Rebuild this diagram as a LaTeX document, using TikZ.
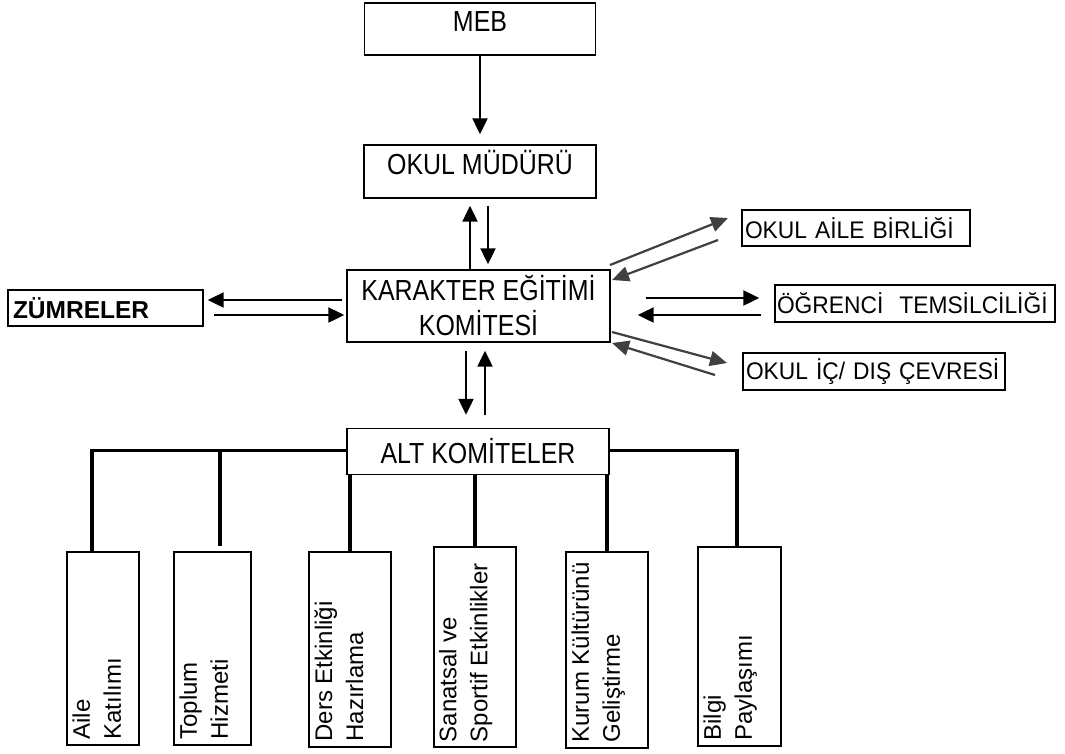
\documentclass[tikz,border=0pt]{standalone}
\usepackage{fontspec}
\setmainfont{Liberation Sans}
\newfontfamily\topfont{Liberation Sans}[FakeStretch=0.86]
\newfontfamily\rightfont{Liberation Sans}[FakeStretch=0.95]
\usetikzlibrary{arrows.meta,calc}
\begin{document}
\begin{tikzpicture}[x=1pt,y=-1pt,
 every node/.style={font=\fontsize{23}{28}\selectfont},
 box/.style={draw,line width=1.4pt,inner sep=0pt,align=center},
 tbox/.style={box,font=\topfont\fontsize{29}{35}\selectfont},
 lbox/.style={box,align=left,inner xsep=5pt},
 rbox/.style={lbox,font=\rightfont\fontsize{24}{28}\selectfont},
 arr/.style={line width=2.2pt,-{Triangle[length=16pt,width=15pt]}},
 darr/.style={arr,draw=black!75,fill=black!85,-{Triangle[length=17pt,width=15pt]}},
 conn/.style={line width=3pt},
 drop/.style={line width=4pt},
 vtext/.style={rotate=90,anchor=north west,align=left,inner sep=3pt,font=\fontsize{24}{31}\selectfont}
]
\useasboundingbox[fill=white] (0,0) rectangle (1065,753);

% top boxes
\node[tbox,minimum width=231pt,minimum height=52pt,text height=21pt,text depth=16pt] (MEB) at (480,29) {MEB};
\node[tbox,minimum width=232pt,minimum height=53pt,text height=21pt,text depth=16pt] (MUD) at (480,171.5) {OKUL MÜDÜRÜ};
\node[tbox,minimum width=263pt,minimum height=72pt] (KEK) at (478.5,306) {KARAKTER EĞİTİMİ\\KOMİTESİ};
\node[lbox,minimum width=195pt,minimum height=36pt,text width=185pt,font=\fontsize{24.5}{28}\selectfont\bfseries] (ZUM) at (105.5,308) {ZÜMRELER};
\node[rbox,minimum width=228pt,minimum height=36pt,text width=222pt,inner xsep=3pt] (OAB) at (856,228) {\mbox{OKUL AİLE BİRLİĞİ}};
\node[rbox,minimum width=280pt,minimum height=37pt,text width=276pt,inner xsep=2pt] (OGR) at (915,303.5) {\mbox{ÖĞRENCİ\ \ TEMSİLCİLİĞİ}};
\node[rbox,minimum width=262pt,minimum height=37pt,text width=256pt,inner xsep=3pt] (OIC) at (874,371.5) {\mbox{OKUL İÇ/ DIŞ ÇEVRESİ}};
\node[tbox,minimum width=262pt,minimum height=46pt] (ALT) at (478,451.5) {ALT KOMİTELER};

% bottom boxes
\node[box,minimum width=72pt,minimum height=193pt] (b1) at (103,648.5) {};
\node[box,minimum width=77pt,minimum height=193pt] (b2) at (212.5,648.5) {};
\node[box,minimum width=82pt,minimum height=195pt] (b3) at (350,649.5) {};
\node[box,line width=2.6pt,minimum width=82pt,minimum height=200pt] (b4) at (475,647) {};
\node[box,minimum width=82pt,minimum height=196pt] (b5) at (607,650) {};
\node[box,minimum width=83pt,minimum height=199pt] (b6) at (739.5,646.5) {};

\node[vtext] (t1) at ($(b1.south west)+(3,-3)$) {Aile\\Katılımı};
\node[vtext] (t2) at ($(b2.south west)+(3,-3)$) {Toplum\\Hizmeti};
\node[vtext] (t3) at ($(b3.south west)+(3,-3)$) {Ders Etkinliği\\Hazırlama};
\node[vtext] (t4) at ($(b4.south west)+(3,-3)$) {Sanatsal ve\\Sportif Etkinlikler};
\node[vtext] (t5) at ($(b5.south west)+(3,-3)$) {Kurum Kültürünü\\Geliştirme};
\node[vtext] (t6) at ($(b6.south west)+(3,-3)$) {Bilgi\\Paylaşımı};

% tree connectors
\coordinate (LA) at (92,450);
\coordinate (LT) at (220,450);
\coordinate (TT) at (220,546);
\coordinate (RB) at (737,450);
\draw[conn] (ALT.west |- LA) -- ($(LA)+(-2,0)$);
\draw[conn] (ALT.east |- RB) -- ($(RB)+(2,0)$);
\draw[drop] ($(LA)+(0,-1.5)$) -- (LA |- b1.north);
\draw[drop] (LT) -- (TT);
\draw[drop] ($(RB)+(0,-1.5)$) -- (RB |- b6.north);
\draw[drop] (b3.north |- ALT.south) -- (b3.north);
\draw[drop] (b4.north |- ALT.south) -- (b4.north);
\draw[drop] (b5.north |- ALT.south) -- (b5.north);

% vertical arrows
\draw[arr,shorten >=10pt] (MEB) -- (MUD);
\coordinate (u1) at (470,0);
\coordinate (d1) at (488,0);
\draw[arr,shorten >=7pt] (u1 |- KEK.north) -- (u1 |- MUD.south);
\draw[arr,shorten <=7pt,shorten >=5pt] (d1 |- MUD.south) -- (d1 |- KEK.north);
\coordinate (d2) at (466,0);
\coordinate (u2) at (485,0);
\draw[arr,shorten <=8pt,shorten >=13pt] (d2 |- KEK.south) -- (d2 |- ALT.north);
\draw[arr,shorten <=13pt,shorten >=8pt] (u2 |- ALT.north) -- (u2 |- KEK.south);

% left arrows
\coordinate (z1) at (0,300);
\coordinate (z2) at (0,315);
\draw[arr,shorten <=4pt,shorten >=4pt] (KEK.west |- z1) -- (ZUM.east |- z1);
\draw[arr,shorten <=10pt,shorten >=2pt] (ZUM.east |- z2) -- (KEK.west |- z2);

% right horizontal arrows
\coordinate (r1) at (0,298);
\coordinate (r2) at (0,315);
\draw[arr,shorten <=35pt,shorten >=15pt] (KEK.east |- r1) -- (OGR.west |- r1);
\draw[arr,shorten <=13pt,shorten >=27pt] (OGR.west |- r2) -- (KEK.east |- r2);

% diagonal arrows
\coordinate (a1s) at (610,265); \coordinate (a1e) at (728,218);
\coordinate (a2s) at (718,240); \coordinate (a2e) at (612,280);
\coordinate (a3s) at (612,332); \coordinate (a3e) at (727,363);
\coordinate (a4s) at (715,375); \coordinate (a4e) at (612,343);
\draw[darr] (a1s) -- (a1e);
\draw[darr] (a2s) -- (a2e);
\draw[darr] (a3s) -- (a3e);
\draw[darr] (a4s) -- (a4e);
\end{tikzpicture}
\end{document}
